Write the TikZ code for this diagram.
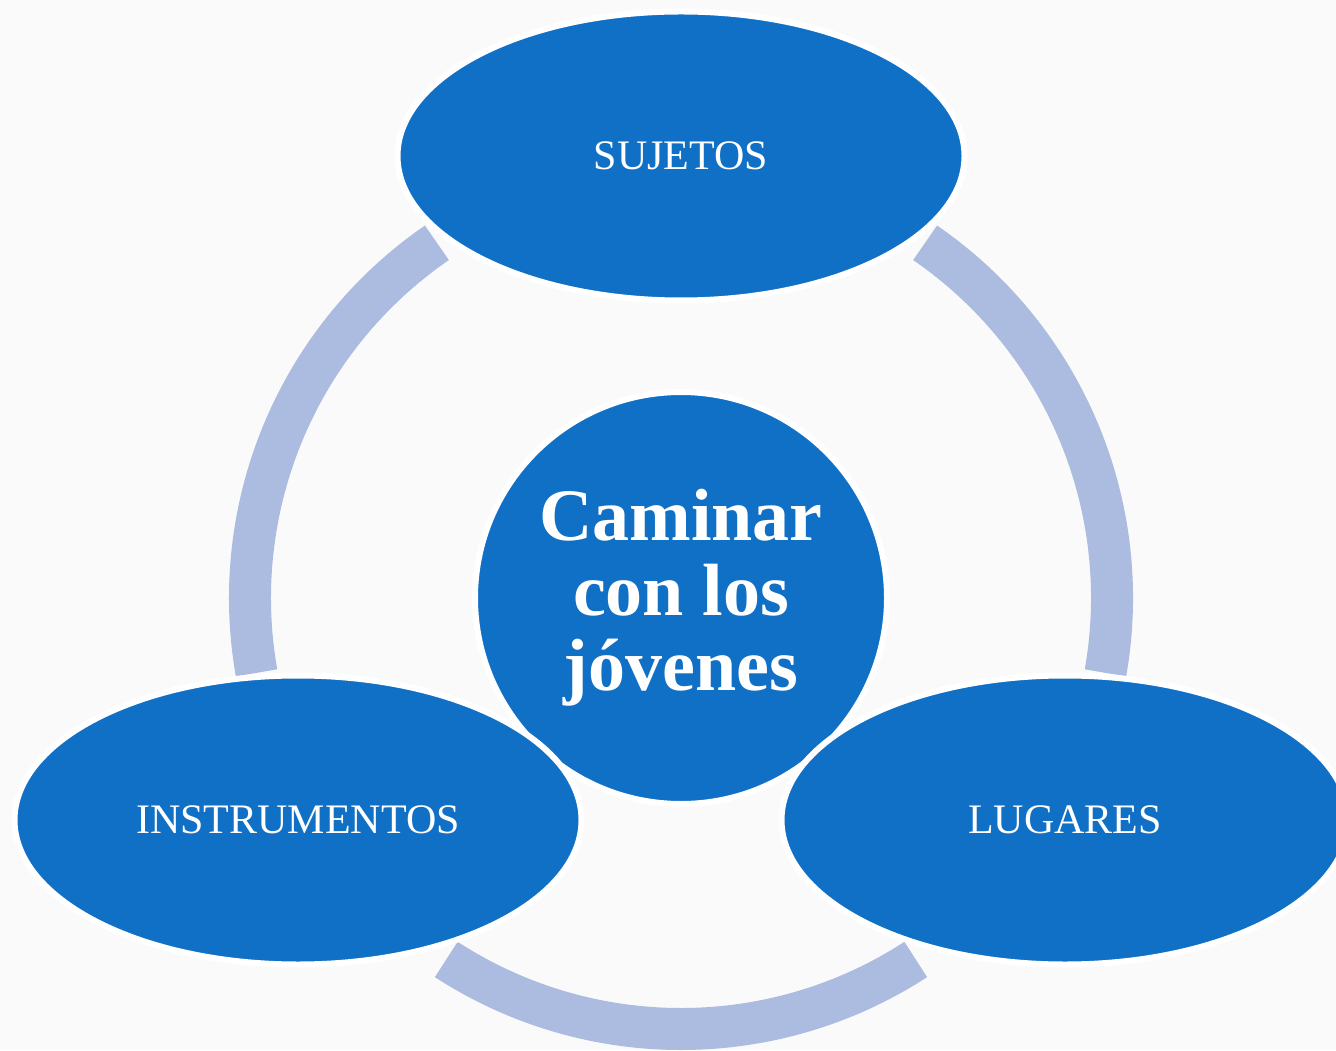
\documentclass[tikz,border=0pt]{standalone}
\usepackage{fontspec}
\setmainfont{Liberation Serif}
\usetikzlibrary{shapes.geometric}
\definecolor{petalblue}{RGB}{16,112,198}
\definecolor{ringblue}{RGB}{171,188,224}
\definecolor{paper}{RGB}{250,250,250}

\begin{document}
\begin{tikzpicture}
 [x=0.5pt,y=0.5pt,
   every node/.style={text=white,inner sep=0pt},
   petal/.style={ellipse,fill=petalblue,draw=white,line width=3pt,
     minimum width=283.5pt,minimum height=144.5pt,font=\fontsize{21}{25}\selectfont},
   hub/.style={circle,fill=petalblue,draw=white,line width=3pt,
     minimum size=206pt,align=center,font=\bfseries\fontsize{37}{37.5}\selectfont},
   ring/.style={draw=ringblue,line width=21pt}]
  \useasboundingbox (0,0) rectangle (1336,1050);
  \clip (0,0) rectangle (1336,1050);
  \fill[paper] (0,0) rectangle (1336,1050);
  % ring between the petals
  \coordinate (mid) at (681,452);
  \draw[ring] (mid) ++(55.5:215.5pt) arc[start angle=55.5,end angle=-10,radius=215.5pt];
  \draw[ring] (mid) ++(124.5:215.5pt) arc[start angle=124.5,end angle=190,radius=215.5pt];
  \draw[ring] (mid) ++(237:215.5pt) arc[start angle=237,end angle=303,radius=215.5pt];
  % centre and petals
  \node[hub] (center) at (mid) {\raisebox{-2.5pt}{Caminar}\\\raisebox{-2.5pt}{con los}\\\raisebox{-2.5pt}{jóvenes}};
  \node[petal] (sujetos) at (681,894) {SUJETOS};
  \node[petal] (instrumentos) at (298,230) {INSTRUMENTOS};
  \node[petal] (lugares) at (1065,230) {LUGARES};
\end{tikzpicture}
\end{document}
